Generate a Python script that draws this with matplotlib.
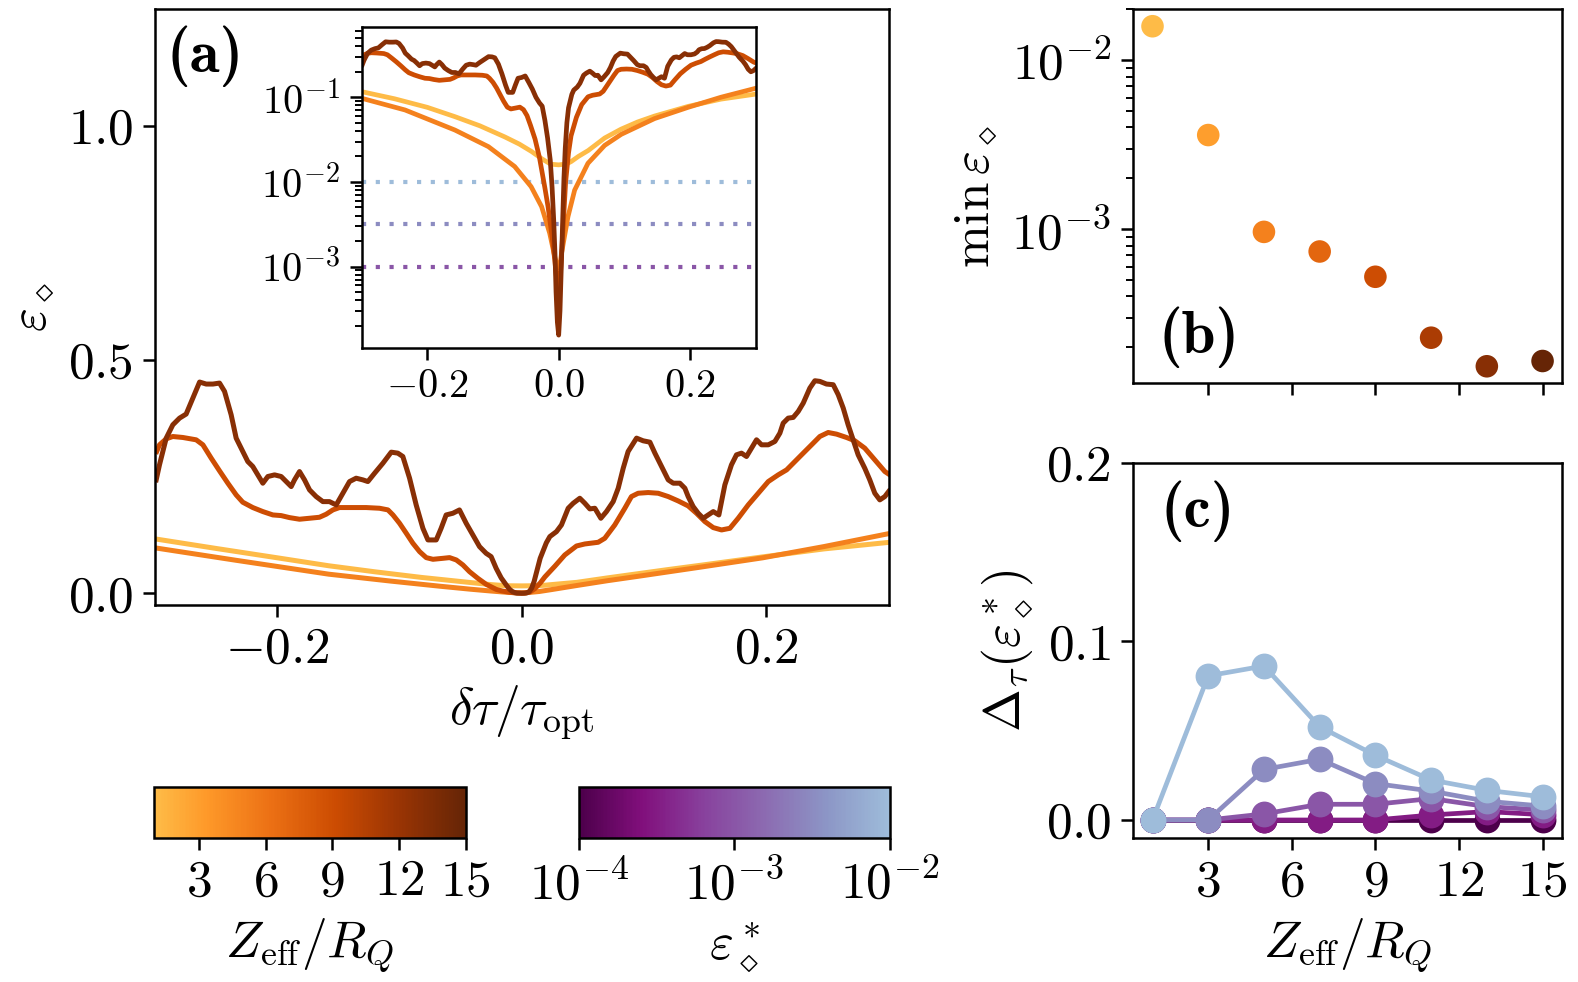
import numpy as np
import matplotlib
matplotlib.use('Agg')
import matplotlib.pyplot as plt
from matplotlib.colors import LinearSegmentedColormap, Normalize, LogNorm
from matplotlib.cm import ScalarMappable

plt.rcParams.update({
    'font.family': 'serif',
    'font.serif': ['cmr10'],
    'mathtext.fontset': 'cm',
    'axes.formatter.use_mathtext': True,
    'font.size': 18.5,
    'axes.linewidth': 0.9,
    'xtick.major.width': 0.9, 'ytick.major.width': 0.9,
    'xtick.major.size': 4.3, 'ytick.major.size': 4.3,
    'xtick.minor.width': 0.7, 'ytick.minor.width': 0.7,
    'xtick.minor.size': 2.4, 'ytick.minor.size': 2.4,
})

# ---- data: curves eps(dtau) for Z_eff/R_Q = 1, 5, 9, 13 ----
z_curves = [1, 5, 9, 13]

tau_z1 = [-0.300, -0.250, -0.200, -0.158, -0.120, -0.082, -0.060, -0.041, -0.025, -0.012,
          0.000, 0.012, 0.019, 0.030, 0.045, 0.070, 0.095, 0.120, 0.146, 0.197, 0.247, 0.300]
eps_z1 = [0.1165, 0.096, 0.076, 0.059, 0.046, 0.034, 0.028, 0.0228, 0.0186, 0.0162,
          0.0159, 0.0163, 0.0174, 0.0200, 0.0235, 0.033, 0.042, 0.051, 0.060, 0.078, 0.095, 0.109]

tau_z5 = [-0.300, -0.234, -0.158, -0.107, -0.067, -0.042, -0.026, -0.0137, -0.0061, -0.002,
          0.000, 0.002, 0.0041, 0.0142, 0.0243, 0.0446, 0.070, 0.0953, 0.146, 0.197, 0.247, 0.300]
eps_z5 = [0.0973, 0.0708, 0.041, 0.0261, 0.0152, 0.0088, 0.0051, 0.00248, 0.00132, 0.00100,
          0.000964, 0.00102, 0.00140, 0.0039, 0.0080, 0.0166, 0.027, 0.0365, 0.056, 0.076, 0.100, 0.1277]

tau_z9 = [-0.2986, -0.2963, -0.2908, -0.2854, -0.2772, -0.2663, -0.2608, -0.2540, -0.2472, -0.2404,
          -0.2336, -0.2282, -0.2200, -0.2118, -0.2036, -0.1968, -0.1900, -0.1818, -0.1736, -0.1655,
          -0.1600, -0.1545, -0.1491, -0.1382, -0.1273, -0.1164, -0.1095, -0.1054, -0.1000, -0.0945,
          -0.0891, -0.0836, -0.0782, -0.0727, -0.0645, -0.0591, -0.0536, -0.0482, -0.0428, -0.0360,
          -0.0292, -0.0210, -0.0162, -0.0101, -0.0060, -0.0035, 0.0000, 0.0030, 0.0066, 0.0106,
          0.0150, 0.0188, 0.0270, 0.0351, 0.0447, 0.0515, 0.0624, 0.0678, 0.0760, 0.0842,
          0.0896, 0.0951, 0.1033, 0.1115, 0.1197, 0.1278, 0.1360, 0.1428, 0.1497, 0.1565,
          0.1633, 0.1701, 0.1769, 0.1851, 0.1933, 0.2015, 0.2096, 0.2165, 0.2233, 0.2301,
          0.2369, 0.2437, 0.2505, 0.2573, 0.2655, 0.2723, 0.2804, 0.2886, 0.2968, 0.3000]
eps_z9 = [0.3034, 0.3177, 0.3305, 0.3355, 0.3334, 0.3284, 0.3177, 0.2891, 0.2620, 0.2356,
          0.2106, 0.1949, 0.1835, 0.1749, 0.1677, 0.1663, 0.1620, 0.1585, 0.1606, 0.1627,
          0.1692, 0.1785, 0.1835, 0.1835, 0.1835, 0.1820, 0.1785, 0.1677, 0.1499, 0.1285,
          0.1071, 0.0892, 0.0764, 0.0728, 0.0749, 0.0764, 0.0714, 0.0607, 0.0464, 0.0321,
          0.0193, 0.0085, 0.0051, 0.00226, 0.0012, 0.00076, 0.00052, 0.0009, 0.0028, 0.0100,
          0.0220, 0.0350, 0.0580, 0.0820, 0.1013, 0.1056, 0.1092, 0.1177, 0.1463, 0.1820,
          0.2070, 0.2141, 0.2156, 0.2141, 0.2070, 0.1977, 0.1870, 0.1713, 0.1534, 0.1406,
          0.1356, 0.1391, 0.1606, 0.1891, 0.2141, 0.2391, 0.2534, 0.2641, 0.2820, 0.2999,
          0.3177, 0.3356, 0.3441, 0.3406, 0.3334, 0.3263, 0.3106, 0.2856, 0.2606, 0.2550]

tau_z13 = [-0.2990, -0.2963, -0.2908, -0.2854, -0.2799, -0.2745, -0.2690, -0.2635, -0.2581, -0.2526,
           -0.2472, -0.2431, -0.2377, -0.2336, -0.2295, -0.2241, -0.2200, -0.2159, -0.2118, -0.2077,
           -0.2022, -0.1968, -0.1927, -0.1886, -0.1859, -0.1818, -0.1777, -0.1736, -0.1682, -0.1627,
           -0.1573, -0.1518, -0.1464, -0.1409, -0.1355, -0.1300, -0.1259, -0.1204, -0.1136, -0.1068,
           -0.1014, -0.0973, -0.0918, -0.0864, -0.0809, -0.0768, -0.0700, -0.0660, -0.0619, -0.0564,
           -0.0510, -0.0455, -0.0401, -0.0346, -0.0292, -0.0251, -0.0210, -0.0169, -0.0128, -0.0100,
           -0.0076, -0.0056, -0.0040, -0.0020, 0.0000, 0.0020, 0.0040, 0.0060, 0.0080, 0.0100,
           0.0125, 0.0150, 0.0200, 0.0229, 0.0283, 0.0324, 0.0379, 0.0420, 0.0474, 0.0515,
           0.0556, 0.0597, 0.0646, 0.0692, 0.0747, 0.0788, 0.0829, 0.0869, 0.0938, 0.0992,
           0.1047, 0.1088, 0.1142, 0.1197, 0.1238, 0.1292, 0.1333, 0.1360, 0.1401, 0.1442,
           0.1483, 0.1524, 0.1565, 0.1611, 0.1660, 0.1714, 0.1755, 0.1796, 0.1837, 0.1878,
           0.1919, 0.1960, 0.2015, 0.2069, 0.2110, 0.2137, 0.2178, 0.2219, 0.2260, 0.2301,
           0.2355, 0.2396, 0.2437, 0.2491, 0.2546, 0.2587, 0.2628, 0.2668, 0.2709, 0.2750,
           0.2804, 0.2845, 0.2886, 0.2927, 0.2968, 0.3000]
eps_z13 = [0.2427, 0.2749, 0.3320, 0.3605, 0.3748, 0.3835, 0.4177, 0.4520, 0.4477, 0.4477,
           0.4498, 0.4320, 0.3820, 0.3320, 0.3106, 0.2820, 0.2713, 0.2534, 0.2356, 0.2499,
           0.2534, 0.2499, 0.2391, 0.2284, 0.2427, 0.2605, 0.2427, 0.2213, 0.2070, 0.1962,
           0.1962, 0.1891, 0.2141, 0.2391, 0.2463, 0.2427, 0.2391, 0.2570, 0.2784, 0.3020,
           0.2999, 0.2927, 0.2463, 0.1891, 0.1391, 0.1142, 0.1142, 0.1391, 0.1677, 0.1713,
           0.1784, 0.1498, 0.1249, 0.0999, 0.0856, 0.0785, 0.0535, 0.0330, 0.0180, 0.0085,
           0.0036, 0.0014, 0.0005, 0.00022, 0.000155, 0.00030, 0.0010, 0.0035, 0.0110, 0.0250,
           0.0500, 0.0750, 0.1080, 0.1214, 0.1320, 0.1463, 0.1820, 0.1927, 0.2034, 0.1927,
           0.1806, 0.1820, 0.1606, 0.1749, 0.1963, 0.2249, 0.2677, 0.3034, 0.3320, 0.3263,
           0.3234, 0.2999, 0.2713, 0.2427, 0.2356, 0.2356, 0.2249, 0.2070, 0.1856, 0.1713,
           0.1606, 0.1677, 0.1749, 0.1677, 0.2320, 0.2749, 0.2963, 0.2999, 0.2927, 0.3106,
           0.3285, 0.3177, 0.3177, 0.3249, 0.3427, 0.3641, 0.3748, 0.3763, 0.3891, 0.4070,
           0.4391, 0.4548, 0.4534, 0.4477, 0.4463, 0.4249, 0.3963, 0.3606, 0.3285, 0.2963,
           0.2677, 0.2427, 0.2142, 0.1999, 0.2070, 0.2180]

curve_tau = [tau_z1, tau_z5, tau_z9, tau_z13]
curve_eps = [eps_z1, eps_z5, eps_z9, eps_z13]

# thresholds shown as dotted lines in the inset
eps_thresholds = [1e-2, 10 ** -2.5, 1e-3]

# ---- panel (b): minimum error vs Z_eff/R_Q ----
z_vals = [1, 3, 5, 7, 9, 11, 13, 15]
min_eps = [0.01588, 0.003606, 0.000964, 0.000738, 0.000523, 0.000228, 0.0001545, 0.000166]

# ---- panel (c): Delta_tau(eps*) vs Z_eff/R_Q ----
eps_star = [1e-4, 10 ** -3.5, 1e-3, 10 ** -2.5, 1e-2]
delta_tau = [
    [0.0, 0.0, 0.0, 0.0, 0.0, 0.0, 0.0, 0.0],
    [0.0, 0.0, 0.0, 0.0, 0.0, 0.0028, 0.0047, 0.0030],
    [0.0, 0.0, 0.0034, 0.0088, 0.0088, 0.0120, 0.0075, 0.0056],
    [0.0, 0.0, 0.0283, 0.0340, 0.0204, 0.0162, 0.0105, 0.0078],
    [0.0, 0.0807, 0.0862, 0.0522, 0.0362, 0.0224, 0.0166, 0.0130],
]

# ---- colormaps ----
cmap_z = LinearSegmentedColormap.from_list('zcmap', plt.get_cmap('YlOrBr')(np.linspace(0.4, 1.0, 256)))
cmap_e = LinearSegmentedColormap.from_list('ecmap', plt.get_cmap('BuPu')(np.linspace(1.0, 0.375, 256)))
norm_z = Normalize(1, 15)
norm_e = LogNorm(1e-4, 1e-2)

panel_font = dict(family='cmb10', fontsize=22)

fig = plt.figure(figsize=(7.89, 4.91), dpi=200)

# ---- panel (a) ----
ax = fig.add_axes([0.0982, 0.3839, 0.4650, 0.6069])
for z, t, e in zip(z_curves, curve_tau, curve_eps):
    ax.plot(t, e, color=cmap_z(norm_z(z)), lw=1.8)
ax.set_xlim(-0.3, 0.3)
ax.set_ylim(-0.025, 1.25)
ax.set_xticks([-0.2, 0.0, 0.2])
ax.set_yticks([0.0, 0.5, 1.0])
ax.set_xlabel(r'$\delta\tau/\tau_\mathrm{opt}$')
ax.set_ylabel(r'$\varepsilon_\diamond$')
ax.text(0.016, 0.921, '(a)', transform=ax.transAxes, ha='left', va='center', **panel_font)

axin = ax.inset_axes([0.2817, 0.4317, 0.537, 0.5376])
for eth in eps_thresholds:
    axin.axhline(eth, color=cmap_e(norm_e(eth)), lw=1.5, dashes=(1, 2.3), dash_capstyle='butt')
for z, t, e in zip(z_curves, curve_tau, curve_eps):
    axin.plot(t, e, color=cmap_z(norm_z(z)), lw=1.7)
axin.set_yscale('log')
axin.set_xlim(-0.3, 0.3)
axin.set_ylim(1.1e-4, 0.67)
axin.set_xticks([-0.2, 0.0, 0.2])
axin.tick_params(labelsize=14.5)

# ---- colorbars ----
cax1 = fig.add_axes([0.0979, 0.1469, 0.1971, 0.0519])
cb1 = fig.colorbar(ScalarMappable(norm=norm_z, cmap=cmap_z), cax=cax1, orientation='horizontal')
cb1.set_ticks([3, 6, 9, 12, 15])
cb1.set_label(r'$Z_\mathrm{eff}/R_Q$')
cb1.outline.set_linewidth(0.9)

cax2 = fig.add_axes([0.3668, 0.1469, 0.1970, 0.0519])
cb2 = fig.colorbar(ScalarMappable(norm=norm_e, cmap=cmap_e), cax=cax2, orientation='horizontal')
cb2.set_ticks([1e-4, 1e-3, 1e-2])
cb2.minorticks_off()
cb2.set_label(r'$\varepsilon^*_\diamond$')
cb2.outline.set_linewidth(0.9)

# ---- panel (b) ----
axb = fig.add_axes([0.718, 0.6097, 0.2719, 0.3809])
axb.scatter(z_vals, min_eps, c=[cmap_z(norm_z(z)) for z in z_vals], s=66, edgecolors='none', zorder=3)
axb.set_yscale('log')
axb.set_ylabel(r'$\min\,\varepsilon_\diamond$')
axb.text(0.06, 0.1225, '(b)', transform=axb.transAxes, ha='left', va='center', **panel_font)

# ---- panel (c) ----
axc = fig.add_axes([0.718, 0.1466, 0.2719, 0.3822], sharex=axb)
for es, d in zip(eps_star, delta_tau):
    axc.plot(z_vals, d, '-o', color=cmap_e(norm_e(es)), lw=1.7, ms=8.3)
axc.set_ylim(-0.0101, 0.2)
axc.set_yticks([0.0, 0.1, 0.2])
axc.set_xticks([3, 6, 9, 12, 15])
axc.set_xlabel(r'$Z_\mathrm{eff}/R_Q$')
axc.set_ylabel(r'$\Delta_\tau(\varepsilon^*_\diamond)$')
axc.text(0.063, 0.871, '(c)', transform=axc.transAxes, ha='left', va='center', **panel_font)
plt.setp(axb.get_xticklabels(), visible=False)

fig.savefig('out.png', dpi=200)
